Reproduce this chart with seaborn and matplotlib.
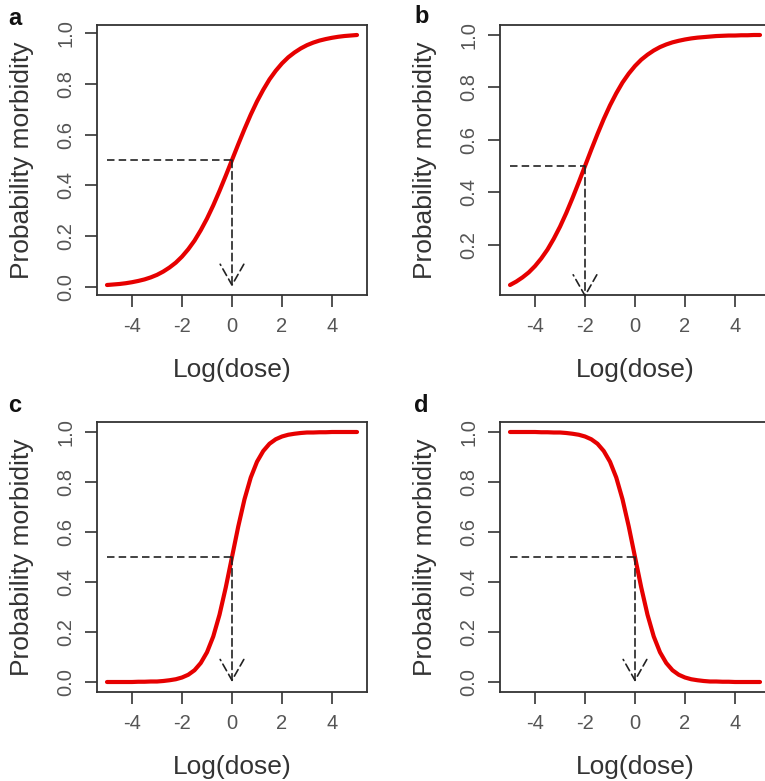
import numpy as np
import pandas as pd
import matplotlib
matplotlib.use("Agg")
import matplotlib.pyplot as plt
from matplotlib.ticker import FormatStrFormatter
import seaborn as sns

# ---------------- data ----------------
panel_letters = ["a", "b", "c", "d"]

dose = [-5.0, -4.75, -4.5, -4.25, -4.0, -3.75, -3.5, -3.25, -3.0, -2.75, -2.5,
        -2.25, -2.0, -1.75, -1.5, -1.25, -1.0, -0.75, -0.5, -0.25, 0.0,
        0.25, 0.5, 0.75, 1.0, 1.25, 1.5, 1.75, 2.0, 2.25, 2.5,
        2.75, 3.0, 3.25, 3.5, 3.75, 4.0, 4.25, 4.5, 4.75, 5.0]

prob_a = [0.007, 0.009, 0.011, 0.014, 0.018, 0.023, 0.029, 0.037, 0.047, 0.060, 0.076,
          0.095, 0.119, 0.148, 0.182, 0.223, 0.269, 0.321, 0.378, 0.438, 0.500,
          0.562, 0.622, 0.679, 0.731, 0.777, 0.818, 0.852, 0.881, 0.905, 0.924,
          0.940, 0.953, 0.963, 0.971, 0.977, 0.982, 0.986, 0.989, 0.991, 0.993]
prob_b = [0.047, 0.060, 0.076, 0.095, 0.119, 0.148, 0.182, 0.223, 0.269, 0.321, 0.378,
          0.438, 0.500, 0.562, 0.622, 0.679, 0.731, 0.777, 0.818, 0.852, 0.881,
          0.905, 0.924, 0.940, 0.953, 0.963, 0.971, 0.977, 0.982, 0.986, 0.989,
          0.991, 0.993, 0.995, 0.996, 0.997, 0.997, 0.998, 0.998, 0.999, 0.999]
prob_c = [0.000, 0.000, 0.000, 0.000, 0.000, 0.001, 0.001, 0.002, 0.002, 0.004, 0.007,
          0.011, 0.018, 0.029, 0.047, 0.076, 0.119, 0.182, 0.269, 0.378, 0.500,
          0.622, 0.731, 0.818, 0.881, 0.924, 0.953, 0.971, 0.982, 0.989, 0.993,
          0.996, 0.998, 0.998, 0.999, 0.999, 1.000, 1.000, 1.000, 1.000, 1.000]
prob_d = [1.000, 1.000, 1.000, 1.000, 1.000, 0.999, 0.999, 0.998, 0.998, 0.996, 0.993,
          0.989, 0.982, 0.971, 0.953, 0.924, 0.881, 0.818, 0.731, 0.622, 0.500,
          0.378, 0.269, 0.182, 0.119, 0.076, 0.047, 0.029, 0.018, 0.011, 0.007,
          0.004, 0.002, 0.002, 0.001, 0.001, 0.000, 0.000, 0.000, 0.000, 0.000]

ld50_dose = [0.0, -2.0, 0.0, 0.0]
ld50_prob = [0.5, 0.5, 0.5, 0.5]
guide_start = [-5.0, -5.0, -5.0, -5.0]
arrow_end = [0.0, 0.0, 0.0, 0.0]

x_ticks = [-4, -2, 0, 2, 4]
y_ticks_full = [0.0, 0.2, 0.4, 0.6, 0.8, 1.0]

probs = [prob_a, prob_b, prob_c, prob_d]

# ---------------- style ----------------
sns.set_theme(style="ticks")
plt.rcParams["font.family"] = ["Liberation Sans", "DejaVu Sans"]
plt.rcParams["axes.unicode_minus"] = False

W, H = 765, 781
fig = plt.figure(figsize=(W / 100, H / 100), dpi=100)
fig.patch.set_facecolor("white")

# axes layout in pixels (left, top), size 270x270
layout = [(97, 25), (500, 25), (97, 422), (500, 422)]
letter_pos = [(8, 25), (414, 23), (8, 412), (414, 412)]
box = 270

for i in range(4):
    l, t = layout[i]
    ax = fig.add_axes([l / W, 1 - (t + box) / H, box / W, box / H])
    df = pd.DataFrame({"dose": dose, "prob": probs[i]})
    sns.lineplot(data=df, x="dose", y="prob", ax=ax, color="#e60000",
                 linewidth=3.0, sort=True, estimator=None)

    # dashed guides
    ax.plot([guide_start[i], ld50_dose[i]], [ld50_prob[i], ld50_prob[i]],
            color="#222222", lw=1.2, dashes=(4.5, 2.5), zorder=4)
    ax.annotate("", xy=(ld50_dose[i], arrow_end[i]), xytext=(ld50_dose[i], ld50_prob[i]),
                arrowprops=dict(arrowstyle="->,head_length=1.5,head_width=0.85",
                                linestyle=(0, (4.5, 2.5)), lw=1.2, color="#222222",
                                shrinkA=0, shrinkB=0, mutation_scale=10),
                annotation_clip=False, zorder=4)

    ymin, ymax = min(probs[i]), max(probs[i])
    pad = 0.04 * (ymax - ymin)
    ax.set_xlim(-5.4, 5.4)
    ax.set_ylim(ymin - pad, ymax + pad)
    ax.set_xticks(x_ticks)
    ax.set_yticks([v for v in y_ticks_full if ymin - pad <= v <= ymax + pad])
    ax.yaxis.set_major_formatter(FormatStrFormatter("%.1f"))

    ax.set_xlabel("Log(dose)", fontsize=19, color="#333333")
    ax.set_ylabel("Probability morbidity", fontsize=19, color="#333333")
    ax.xaxis.set_label_coords(0.5, -0.232)
    ax.yaxis.set_label_coords(-0.232, 0.5)

    for s in ax.spines.values():
        s.set_visible(True)
        s.set_color("#333333")
        s.set_linewidth(1.3)
    ax.tick_params(direction="out", length=8.5, width=1.2, color="#333333",
                   labelsize=14.5, labelcolor="#555555", pad=7)
    for lab in ax.get_yticklabels():
        lab.set_rotation(90)
        lab.set_va("center")
    ax.set_facecolor("white")
    ax.grid(False)

    lx, ly = letter_pos[i]
    fig.text(lx / W, 1 - ly / H, panel_letters[i], fontsize=17, fontweight="bold",
             color="#111111", va="baseline", ha="left")

fig.savefig("out.png", dpi=100)
